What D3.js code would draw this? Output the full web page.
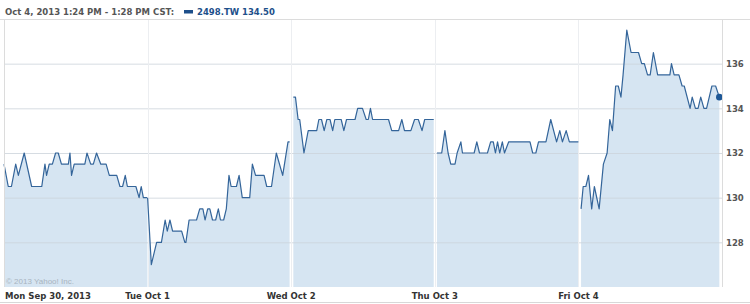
<!DOCTYPE html>
<html>
<head>
<meta charset="utf-8">
<script src="https://cdn.jsdelivr.net/npm/d3@7"></script>
<style>
  body { margin: 0; background: #fff; }
  svg { display: block; }
  .hdr { font-family: "DejaVu Sans", Verdana, sans-serif; font-weight: bold; font-size: 8.5px; }
  .tick text { font-family: "DejaVu Sans", Verdana, sans-serif; font-weight: bold; font-size: 8.5px; fill: #555; }
</style>
</head>
<body>
<div id="viz"></div>
<script>
// minutes since 9:00 open, price (TWD)
const days = ["Mon Sep 30, 2013", "Tue Oct 1", "Wed Oct 2", "Thu Oct 3", "Fri Oct 4"];
const yTicks = [128, 130, 132, 134, 136];

const mon = [[0,131.5],[8,130.5],[14,130.5],[22,131.5],[27,131],[38,132],[52,130.5],[71,130.5],[77,131.5],[80,131],
  [85,131.5],[91,131.5],[97,132],[102,132],[108,131.5],[121,131.5],[124,132],[127,131],[132,131.5],[152,131.5],
  [156,132],[163,131.5],[168,131.5],[174,132],[182,131.5],[192,131.5],[198,131],[212,131],[218,130.5],[223,130.5],
  [228,131],[232,130.5],[248,130.5],[254,130],[258,130.5],[262,130],[269,130]];
const tue = [[0,130],[7,127],[17,128],[26,128],[33,129],[37,128.5],[42,129],[47,128.5],[64,128.5],[70,128],[72,128],
  [78,129],[92,129],[98,129.5],[104,129.5],[108,129],[113,129.5],[117,129.5],[122,129],[128,129],[133,129.5],
  [137,129],[143,129],[148,129.5],[153,131],[157,130.5],[167,130.5],[172,131],[178,130],[192,130],[197,131.5],
  [203,131],[219,131],[224,130.5],[233,130.5],[242,132],[254,131],[264,132.5],[267,132.5]];
const wed = [[4,134.5],[8,134.5],[13,133.5],[16,133.5],[24,132],[32,133],[48,133],[52,133.5],[57,133.5],[62,133],
  [67,133.5],[73,133.5],[78,133],[82,133.5],[94,133.5],[99,133],[104,133.5],[120,133.5],[125,134],[134,134],
  [141,133.5],[145,133.5],[149,134],[153,133.5],[183,133.5],[189,133],[202,133],[208,133.5],[213,133],[225,133],
  [232,133.5],[239,133.5],[246,133],[251,133.5],[268,133.5]];
const thu = [[4,132],[13,132],[19,133],[25,132],[30,131.5],[38,131.5],[42,132],[49,132.5],[52,132],[74,132],
  [79,132.5],[84,132],[99,132],[105,132.5],[110,132.5],[114,132],[118,132.5],[122,132],[127,132.5],[131,132],
  [139,132.5],[179,132.5],[184,132],[190,132],[195,132.5],[209,132.5],[218,133.5],[229,132.5],[235,133],
  [240,132.5],[247,133],[253,132.5],[270,132.5]];
const fri = [[5,129.5],[9,130.5],[14,130.5],[19,131],[25,129.5],[30,130.5],[39,129.5],[47,131.5],[54,132],
  [59,133.5],[64,133],[70,135],[75,135],[80,134.5],[84,135.5],[91,137.5],[99,136.5],[113,136.5],[119,136],
  [124,136],[130,135.5],[135,135.5],[141,136.5],[149,135.5],[172,135.5],[175,136],[180,135.5],[189,135.5],
  [195,135],[199,135],[210,134],[214,134.5],[220,134],[225,134],[230,134.5],[236,134],[241,134],[251,135],
  [258,135],[265,134.5]];
const series = [mon, tue, wed, thu, fri];

const W = 750, H = 304;
const plot = {left: 4, right: 722, top: 19, bottom: 287};

const svg = d3.select("#viz").append("svg")
    .attr("width", W)
    .attr("height", H);

const x = d3.scaleLinear().domain([0, 270 * days.length]).range([plot.left, plot.right]);
const y = d3.scaleLinear().domain([126, 138]).range([plot.bottom, plot.top]);

// area + line, one per trading day
const area = d3.area()
    .x(d => d.x).y0(plot.bottom).y1(d => y(d.v));
const line = d3.line()
    .x(d => d.x).y(d => y(d.v));

series.forEach(function(s, i) {
    const pts = s.map(p => ({x: x(i * 270 + p[0]), v: p[1]}));
    svg.append("path").datum(pts)
        .attr("fill", "#d6e5f2")
        .attr("d", area);
});

// horizontal gridlines + right axis labels
const yAxis = svg.append("g")
    .attr("transform", `translate(${plot.right},0)`)
    .call(d3.axisRight(y).tickValues(yTicks).tickSize(-(plot.right - plot.left)).tickPadding(4).tickFormat(d3.format("d")));
yAxis.select(".domain").remove();
yAxis.selectAll(".tick line").attr("stroke", "#ccd3db").attr("stroke-opacity", 0.8);

// vertical day separators
svg.append("g").selectAll("line")
    .data(d3.range(1, days.length))
    .join("line")
        .attr("x1", d => Math.round(x(d * 270)) + 0.5).attr("x2", d => Math.round(x(d * 270)) + 0.5)
        .attr("y1", plot.top).attr("y2", plot.bottom)
        .attr("stroke", "#eceef1")
        .attr("stroke-width", 1);

series.forEach(function(s, i) {
    const pts = s.map(p => ({x: x(i * 270 + p[0]), v: p[1]}));
    svg.append("path").datum(pts)
        .attr("fill", "none")
        .attr("stroke", "#34659a")
        .attr("stroke-width", 1.2)
        .attr("stroke-linejoin", "round")
        .attr("d", line);
});

// last price marker
const last = fri[fri.length - 1];
svg.append("circle")
    .attr("cx", x(4 * 270 + last[0]))
    .attr("cy", y(last[1]))
    .attr("r", 3.3)
    .attr("fill", "#1d5796");

// frame
svg.append("line").attr("x1", 0).attr("x2", W).attr("y1", plot.top + 0.5).attr("y2", plot.top + 0.5).attr("stroke", "#dcdcdc");
svg.append("line").attr("x1", plot.left + 0.5).attr("x2", plot.left + 0.5).attr("y1", plot.top).attr("y2", plot.bottom).attr("stroke", "#dcdcdc");
svg.append("line").attr("x1", plot.right + 0.5).attr("x2", plot.right + 0.5).attr("y1", plot.top).attr("y2", plot.bottom).attr("stroke", "#dcdcdc");
svg.append("line").attr("x1", 0).attr("x2", W).attr("y1", H - 1.5).attr("y2", H - 1.5).attr("stroke", "#d8d8d8");

// header
svg.append("text").attr("class", "hdr").attr("x", 5).attr("y", 15)
    .attr("fill", "#555").text("Oct 4, 2013 1:24 PM - 1:28 PM CST:");
svg.append("rect").attr("x", 184).attr("y", 10).attr("width", 9).attr("height", 3.5).attr("fill", "#1d4f8a");
svg.append("text").attr("class", "hdr").attr("x", 197).attr("y", 15)
    .attr("fill", "#1d4f8a").text("2498.TW " + last[1].toFixed(2));

// copyright
svg.append("text")
    .attr("x", 6).attr("y", 284)
    .attr("font-family", "Liberation Sans, Arial, sans-serif")
    .attr("font-size", 8)
    .attr("fill", "#a8b4c0")
    .text("\u00a9 2013 Yahoo! Inc.");

// day labels
svg.append("g").selectAll("text")
    .data(days)
    .join("text")
        .attr("class", "hdr")
        .attr("x", (d, i) => i === 0 ? 5 : x(i * 270))
        .attr("y", 299)
        .attr("text-anchor", (d, i) => i === 0 ? "start" : "middle")
        .attr("fill", "#333")
        .text(d => d);
</script>
</body>
</html>
